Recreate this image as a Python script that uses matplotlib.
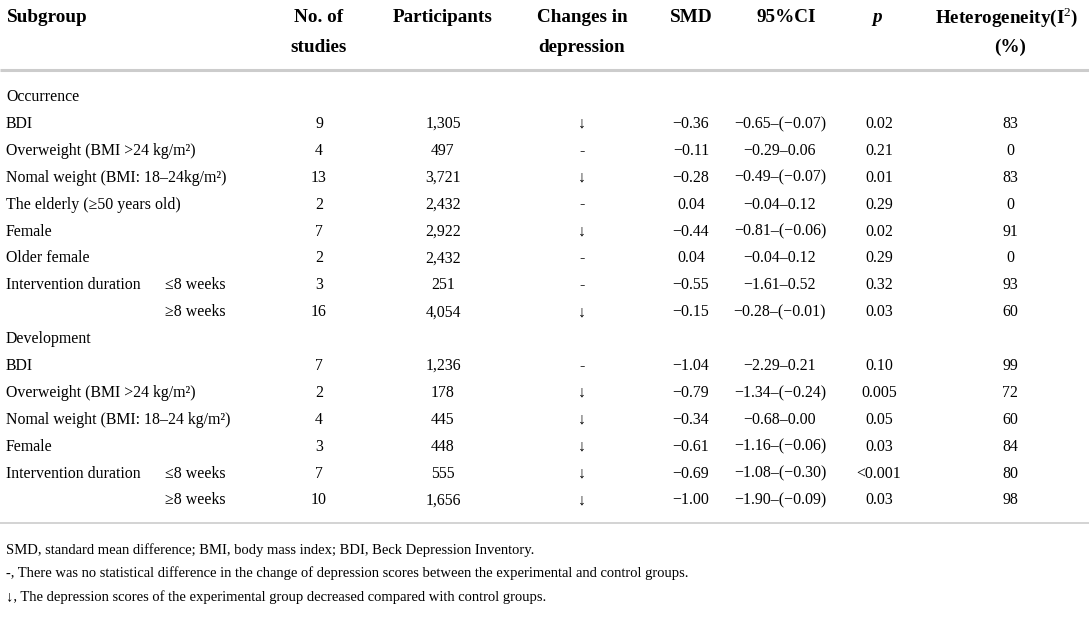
import matplotlib
matplotlib.use("Agg")
import matplotlib.pyplot as plt

plt.rcParams['font.family'] = ['Liberation Serif', 'DejaVu Serif']
plt.rcParams['mathtext.fontset'] = 'custom'
plt.rcParams['mathtext.rm'] = 'Liberation Serif'
plt.rcParams['mathtext.bf'] = 'Liberation Serif:bold'

# table content
subgroups = ["Occurrence", "BDI", "Overweight (BMI >24 kg/m²)", "Nomal weight (BMI: 18–24kg/m²)",
             "The elderly (≥50 years old)", "Female", "Older female", "Intervention duration", "",
             "Development", "BDI", "Overweight (BMI >24 kg/m²)", "Nomal weight (BMI: 18–24 kg/m²)",
             "Female", "Intervention duration", ""]
durations = ["", "", "", "", "", "", "", "≤8 weeks", "≥8 weeks",
             "", "", "", "", "", "≤8 weeks", "≥8 weeks"]
n_studies = ["", "9", "4", "13", "2", "7", "2", "3", "16",
             "", "7", "2", "4", "3", "7", "10"]
participants = ["", "1,305", "497", "3,721", "2,432", "2,922", "2,432", "251", "4,054",
                "", "1,236", "178", "445", "448", "555", "1,656"]
changes = ["", "↓", "-", "↓", "-", "↓", "-", "-", "↓",
           "", "-", "↓", "↓", "↓", "↓", "↓"]
smd = ["", "−0.36", "−0.11", "−0.28", "0.04", "−0.44", "0.04", "−0.55", "−0.15",
       "", "−1.04", "−0.79", "−0.34", "−0.61", "−0.69", "−1.00"]
ci95 = ["", "−0.65–(−0.07)", "−0.29–0.06", "−0.49–(−0.07)", "−0.04–0.12", "−0.81–(−0.06)",
        "−0.04–0.12", "−1.61–0.52", "−0.28–(−0.01)",
        "", "−2.29–0.21", "−1.34–(−0.24)", "−0.68–0.00", "−1.16–(−0.06)", "−1.08–(−0.30)",
        "−1.90–(−0.09)"]
pvals = ["", "0.02", "0.21", "0.01", "0.29", "0.02", "0.29", "0.32", "0.03",
         "", "0.10", "0.005", "0.05", "0.03", "<0.001", "0.03"]
hetero = ["", "83", "0", "83", "0", "91", "0", "93", "60",
          "", "99", "72", "60", "84", "80", "98"]
footnotes = ["SMD, standard mean difference; BMI, body mass index; BDI, Beck Depression Inventory.",
             "-, There was no statistical difference in the change of depression scores between the experimental and control groups.",
             "↓, The depression scores of the experimental group decreased compared with control groups."]

W, H = 1089, 617
fig = plt.figure(figsize=(W / 100, H / 100), dpi=100)
ax = fig.add_axes([0, 0, 1, 1])
ax.set_xlim(0, W)
ax.set_ylim(H, 0)
ax.axis("off")

x_left, x_sub = 6, 165
col_x = [319, 443, 582, 691, 780, 879, 1010]
head_fs, body_fs, foot_fs = 13.8, 11.4, 10.5
hd = dict(fontsize=head_fs, fontweight="bold", va="center", ha="center")

# header
ax.text(x_left + 1, 17, "Subgroup", fontsize=head_fs, fontweight="bold", va="center")
ax.text(col_x[0], 17, "No. of", **hd)
ax.text(col_x[0], 47, "studies", **hd)
ax.text(col_x[1], 17, "Participants", **hd)
ax.text(col_x[2], 17, "Changes in", **hd)
ax.text(col_x[2], 47, "depression", **hd)
ax.text(col_x[3], 17, "SMD", **hd)
ax.text(col_x[4] + 6, 17, "95%CI", **hd)
ax.text(col_x[5] - 2, 17, "p", style="italic", **hd)
ax.text(col_x[6] - 3, 17, r"Heterogeneity(I$^{\mathrm{2}}$)", **hd)
ax.text(col_x[6], 47, "(%)", **hd)

ax.plot([0, W], [70, 70], color="#cccccc", lw=2.2, solid_capstyle="butt")

y0, dy = 97, 26.9
for i in range(len(subgroups)):
    y = y0 + i * dy
    ax.text(x_left, y, subgroups[i], fontsize=body_fs, va="center")
    ax.text(x_sub, y, durations[i], fontsize=body_fs, va="center")
    for cx, val in zip(col_x, [n_studies[i], participants[i], changes[i], smd[i],
                               ci95[i], pvals[i], hetero[i]]):
        ax.text(cx, y, val, fontsize=body_fs, va="center", ha="center")

y_last = y0 + (len(subgroups) - 1) * dy
ax.plot([0, W], [y_last + 22, y_last + 22], color="#cccccc", lw=1.2, solid_capstyle="butt")

for k, note in enumerate(footnotes):
    ax.text(x_left, 550 + k * 23.5, note, fontsize=foot_fs, va="center")

fig.savefig("out.png", dpi=100)
